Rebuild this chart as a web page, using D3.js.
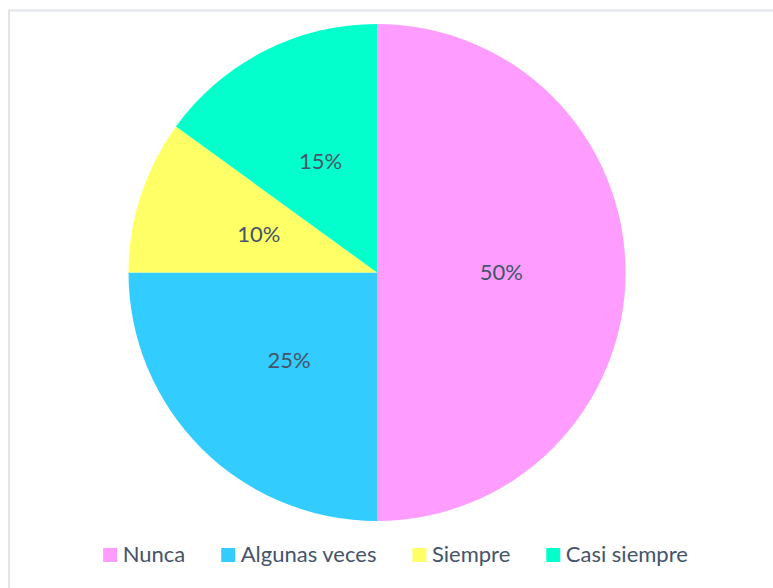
<!DOCTYPE html>
<html>
<head>
<meta charset="utf-8">
<script src="https://cdn.jsdelivr.net/npm/d3@7"></script>
<style>
  body { margin: 0; background: #fff; }
</style>
</head>
<body>
<div id="chart"></div>
<script>
// data
const categories = ["Nunca", "Algunas veces", "Siempre", "Casi siempre"];
const values = [50, 25, 10, 15];
const colors = ["#FF9CFF", "#33CCFF", "#FFFF66", "#03FFCC"];

const width = 773, height = 588;
const cx = 377, cy = 272.5, radius = 248.5;
const textColor = "#44546A";
const font = "Lato, 'Noto Sans', sans-serif";

const svg = d3.select("#chart")
    .append("svg")
    .attr("width", width)
    .attr("height", height);

// chart area border (runs off the right/bottom of the picture)
svg.append("rect")
    .attr("x", 9)
    .attr("y", 10.5)
    .attr("width", 800)
    .attr("height", 640)
    .attr("fill", "none")
    .attr("stroke", "#E0E4EA")
    .attr("stroke-width", 2);

const pie = d3.pie().sort(null).value(d => d.value);
const arc = d3.arc().innerRadius(0).outerRadius(radius);

const data = categories.map((c, i) => ({ name: c, value: values[i], color: colors[i] }));
const total = d3.sum(values);

const g = svg.append("g")
    .attr("transform", `translate(${cx},${cy})`);

g.selectAll("path")
    .data(pie(data))
    .join("path")
    .attr("d", arc)
    .attr("fill", d => d.data.color);

// labels at the centroid (half radius)
g.selectAll("text")
    .data(pie(data))
    .join("text")
    .attr("transform", d => `translate(${arc.centroid(d)})`)
    .attr("text-anchor", "middle")
    .attr("dy", "0.35em")
    .attr("fill", textColor)
    .style("font-family", font)
    .style("font-size", "22px")
    .text(d => Math.round(d.data.value / total * 100) + "%");

// legend, centred under the chart
const legend = svg.append("g");
let lx = 0;
data.forEach((d, i) => {
    const item = legend.append("g").attr("transform", `translate(${lx},0)`);
    item.append("rect")
        .attr("y", 548)
        .attr("width", 14)
        .attr("height", 14)
        .attr("fill", d.color);
    const t = item.append("text")
        .attr("x", 19.5)
        .attr("y", 562)
        .attr("fill", textColor)
        .style("font-family", font)
        .style("font-size", "22px")
        .text(d.name);
    lx += 19.5 + t.node().getComputedTextLength() + (i < data.length - 1 ? 36 : 0);
});
legend.attr("transform", `translate(${395.5 - lx / 2},0)`);
</script>
</body>
</html>
